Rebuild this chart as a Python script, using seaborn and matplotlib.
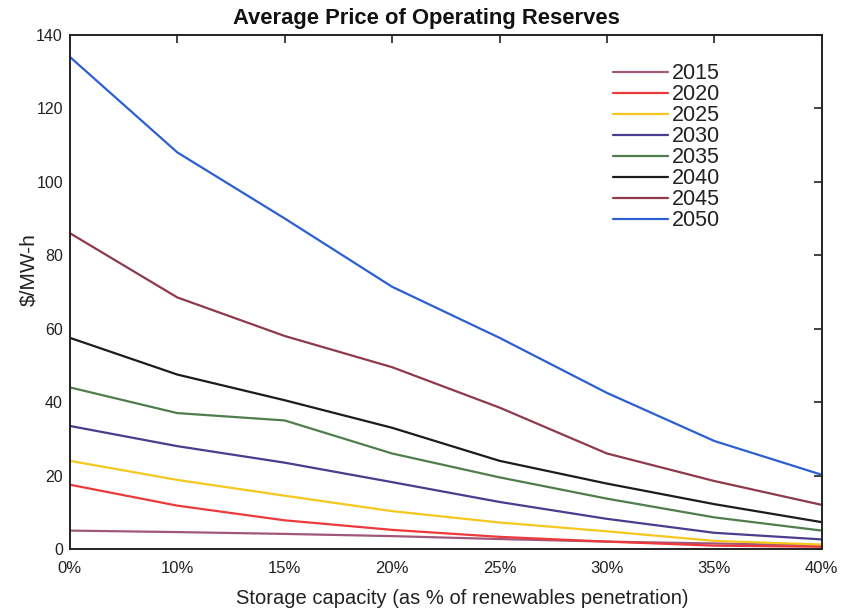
import matplotlib
matplotlib.use("Agg")
import matplotlib.pyplot as plt
import seaborn as sns
import pandas as pd

storage_labels = ["0%", "10%", "15%", "20%", "25%", "30%", "35%", "40%"]
years = ["2015", "2020", "2025", "2030", "2035", "2040", "2045", "2050"]

price_2015 = [5.0, 4.6, 4.1, 3.5, 2.7, 2.0, 1.5, 1.0]
price_2020 = [17.5, 11.8, 7.8, 5.2, 3.3, 2.0, 0.9, 0.6]
price_2025 = [24.0, 18.8, 14.5, 10.3, 7.2, 4.8, 2.2, 1.2]
price_2030 = [33.5, 28.0, 23.5, 18.2, 12.8, 8.2, 4.4, 2.6]
price_2035 = [44.0, 37.0, 35.0, 26.0, 19.5, 13.7, 8.6, 5.0]
price_2040 = [57.5, 47.5, 40.5, 33.0, 24.0, 17.8, 12.2, 7.3]
price_2045 = [86.0, 68.5, 58.0, 49.5, 38.5, 26.0, 18.5, 12.0]
price_2050 = [134.0, 108.0, 90.0, 71.4, 57.5, 42.5, 29.4, 20.2]

series = [price_2015, price_2020, price_2025, price_2030,
          price_2035, price_2040, price_2045, price_2050]
colors = ["#a0587a", "#ec3a3c", "#f6c81e", "#4b3c8e",
          "#4f7d4c", "#1c1c1c", "#8e3a4c", "#2c5fd0"]

rows = []
for yr, vals in zip(years, series):
    for i, (lab, v) in enumerate(zip(storage_labels, vals)):
        rows.append({"pos": i, "storage": lab, "year": yr, "price": v})
df = pd.DataFrame(rows)

sns.set_theme(style="white")
plt.rcParams["font.family"] = ["Liberation Sans", "DejaVu Sans"]

fig = plt.figure(figsize=(8.42, 6.12), dpi=100)
ax = fig.add_axes([0.083, 0.103, 0.893, 0.840])

sns.lineplot(data=df, x="pos", y="price", hue="year", hue_order=years,
             palette=dict(zip(years, colors)), linewidth=1.6, ax=ax,
             estimator=None, sort=False)

ax.set_xlim(0, len(storage_labels) - 1)
ax.set_ylim(0, 140)
ax.set_xticks(range(len(storage_labels)))
ax.set_xticklabels(storage_labels)
ax.set_yticks(range(0, 141, 20))
ax.tick_params(direction="in", length=6, width=1.2, top=True, right=True,
               labelsize=11.5, colors="#222222")
ax.tick_params(axis="x", pad=9, labelsize=12)
ax.tick_params(axis="y", pad=5)
for s in ax.spines.values():
    s.set_visible(True)
    s.set_color("#222222")
    s.set_linewidth(1.4)

ax.set_xlabel("")
ax.set_ylabel("")
fig.text(0.549, 0.022, "Storage capacity (as % of renewables penetration)",
         fontsize=14.5, color="#222222", ha="center", va="center")
fig.text(0.034, 0.56, "$/MW-h", fontsize=15, color="#222222",
         ha="center", va="center", rotation=90)
fig.text(0.506, 0.969, "Average Price of Operating Reserves", fontsize=15.8,
         fontweight="bold", color="#111111", ha="center", va="center")

leg = ax.legend(loc="upper left", bbox_to_anchor=(0.722, 0.945), frameon=False,
                fontsize=15.5, handlelength=2.55, handletextpad=0.2,
                labelspacing=0.0, borderaxespad=0, borderpad=0)
for line in leg.get_lines():
    line.set_linewidth(1.6)
for t in leg.get_texts():
    t.set_color("#222222")

fig.savefig("out.png", dpi=100, facecolor="white")
